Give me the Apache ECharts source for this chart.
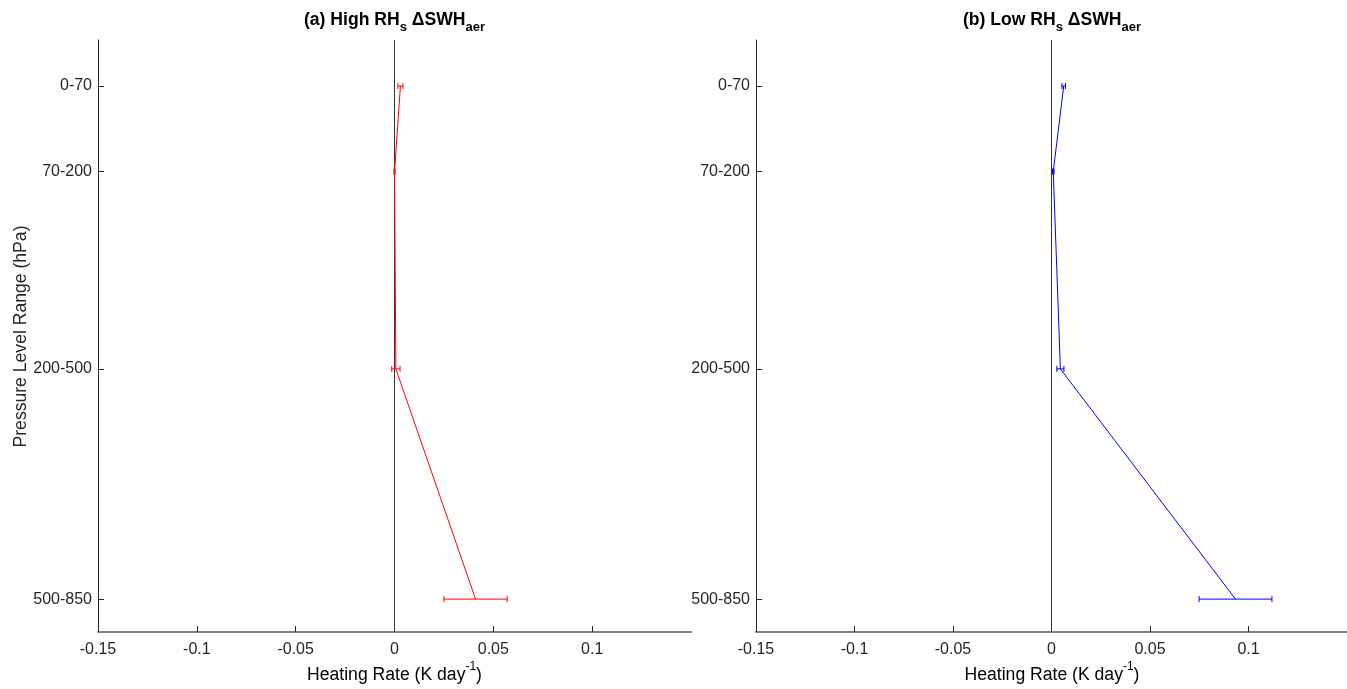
<!DOCTYPE html>
<html>
<head>
<meta charset="utf-8">
<script src="https://cdn.jsdelivr.net/npm/echarts@6/dist/echarts.min.js"></script>
<style>
html,body{margin:0;padding:0;background:#fff;}
#chart{width:1347px;height:689px;}
</style>
</head>
<body>
<div id="chart"></div>
<script>
// ---- data ----
const categories = ['0-70', '70-200', '200-500', '500-850'];
const levelPos = [70, 200, 500, 850];           // lower bound of each pressure range (hPa)
const highVals = [0.003, 0.0, 0.0007, 0.041];
const highErr  = [0.0013, 0.0003, 0.0021, 0.016];
const lowVals  = [0.0062, 0.0009, 0.0045, 0.0934];
const lowErr   = [0.0009, 0.0004, 0.0018, 0.0185];
const xTicks = [-0.15, -0.1, -0.05, 0, 0.05, 0.1];
const xTickLabels = ['-0.15', '-0.1', '-0.05', '0', '0.05', '0.1'];

const FONT = '"Liberation Sans", Arial, Helvetica, sans-serif';
const TXT = '#262626';

function lineData(vals) { return vals.map((v, i) => [v, levelPos[i]]); }
function errData(vals, errs) { return vals.map((v, i) => [v, levelPos[i], v - errs[i], v + errs[i]]); }

function errRender(params, api) {
  const y = api.value(1);
  const lo = api.coord([api.value(2), y]);
  const hi = api.coord([api.value(3), y]);
  const h = 3;
  const st = { stroke: api.visual('color'), lineWidth: 1 };
  return {
    type: 'group',
    children: [
      { type: 'line', shape: { x1: lo[0], y1: lo[1], x2: hi[0], y2: hi[1] }, style: st },
      { type: 'line', shape: { x1: lo[0], y1: lo[1] - h, x2: lo[0], y2: lo[1] + h }, style: st },
      { type: 'line', shape: { x1: hi[0], y1: hi[1] - h, x2: hi[0], y2: hi[1] + h }, style: st }
    ]
  };
}

function makeX(idx) {
  return {
    type: 'value', gridIndex: idx, min: -0.15, max: 0.15,
    axisLine: { show: true, onZero: false, lineStyle: { color: '#808080', width: 2 } },
    axisTick: { show: true, inside: true, length: 6, customValues: xTicks, lineStyle: { color: TXT } },
    axisLabel: {
      customValues: xTicks, color: TXT, fontFamily: FONT, fontSize: 16, margin: 10,
      formatter: v => { const i = xTicks.findIndex(t => Math.abs(t - v) < 1e-9); return i >= 0 ? xTickLabels[i] : ''; }
    },
    splitLine: { show: false }
  };
}
function makeY(idx) {
  return {
    type: 'value', gridIndex: idx, min: 0, max: 900, inverse: true,
    axisLine: { show: true, onZero: false, lineStyle: { color: TXT, width: 1 } },
    axisTick: { show: true, inside: true, length: 6, customValues: levelPos, lineStyle: { color: TXT } },
    axisLabel: {
      customValues: levelPos, color: TXT, fontFamily: FONT, fontSize: 16, margin: 6,
      formatter: v => { const i = levelPos.indexOf(v); return i >= 0 ? categories[i] : ''; }
    },
    splitLine: { show: false }
  };
}

function seriesFor(idx, vals, errs, color) {
  return [
    {
      type: 'line', xAxisIndex: idx, yAxisIndex: idx, data: lineData(vals),
      showSymbol: false, symbol: 'none', lineStyle: { color: color, width: 1 }, itemStyle: { color: color },
      z: 3,
      markLine: {
        silent: true, symbol: 'none', label: { show: false },
        lineStyle: { color: '#333333', width: 1, type: 'solid' },
        data: [{ xAxis: 0 }], z: 2
      }
    },
    {
      type: 'custom', xAxisIndex: idx, yAxisIndex: idx, data: errData(vals, errs),
      itemStyle: { color: color }, renderItem: errRender,
      encode: { x: [0, 2, 3], y: 1 }, z: 4
    }
  ];
}

const titleRich = {
  b: { fontFamily: FONT, fontSize: 17.6, fontWeight: 'bold', color: '#000', lineHeight: 20, verticalAlign: 'top' },
  sub: { fontFamily: FONT, fontSize: 13, fontWeight: 'bold', color: '#000', lineHeight: 20, verticalAlign: 'top', padding: [10, 0, 0, 0] }
};
const labelRich = {
  m: { fontFamily: FONT, fontSize: 17.6, color: TXT, lineHeight: 20, verticalAlign: 'top', padding: [5, 0, 0, 0] },
  sup: { fontFamily: FONT, fontSize: 12, color: TXT, lineHeight: 20, verticalAlign: 'top' }
};

const chart = echarts.init(document.getElementById('chart'), null, { renderer: 'canvas' });
chart.setOption({
  animation: false,
  backgroundColor: '#fff',
  grid: [
    { left: 98, top: 40, width: 593, height: 592 },
    { left: 756, top: 40, width: 592, height: 592 }
  ],
  xAxis: [makeX(0), makeX(1)],
  yAxis: [makeY(0), makeY(1)],
  series: [
    ...seriesFor(0, highVals, highErr, '#ff0000'),
    ...seriesFor(1, lowVals, lowErr, '#0000ff')
  ],
  graphic: [
    { type: 'text', x: 394.5, y: 11, style: { text: '{b|(a) High RH}{sub|s}{b| \u0394SWH}{sub|aer}', rich: titleRich, align: 'center', verticalAlign: 'top' } },
    { type: 'text', x: 1052, y: 11, style: { text: '{b|(b) Low RH}{sub|s}{b| \u0394SWH}{sub|aer}', rich: titleRich, align: 'center', verticalAlign: 'top' } },
    { type: 'text', x: 394.5, y: 661, style: { text: '{m|Heating Rate (K day}{sup|-1}{m|)}', rich: labelRich, align: 'center', verticalAlign: 'top' } },
    { type: 'text', x: 1052, y: 661, style: { text: '{m|Heating Rate (K day}{sup|-1}{m|)}', rich: labelRich, align: 'center', verticalAlign: 'top' } },
    { type: 'text', x: 21, y: 336.5, rotation: Math.PI / 2, style: { text: 'Pressure Level Range (hPa)', fontFamily: FONT, fontSize: 17.6, fill: TXT, align: 'center', verticalAlign: 'middle' } }
  ]
});
</script>
</body>
</html>
